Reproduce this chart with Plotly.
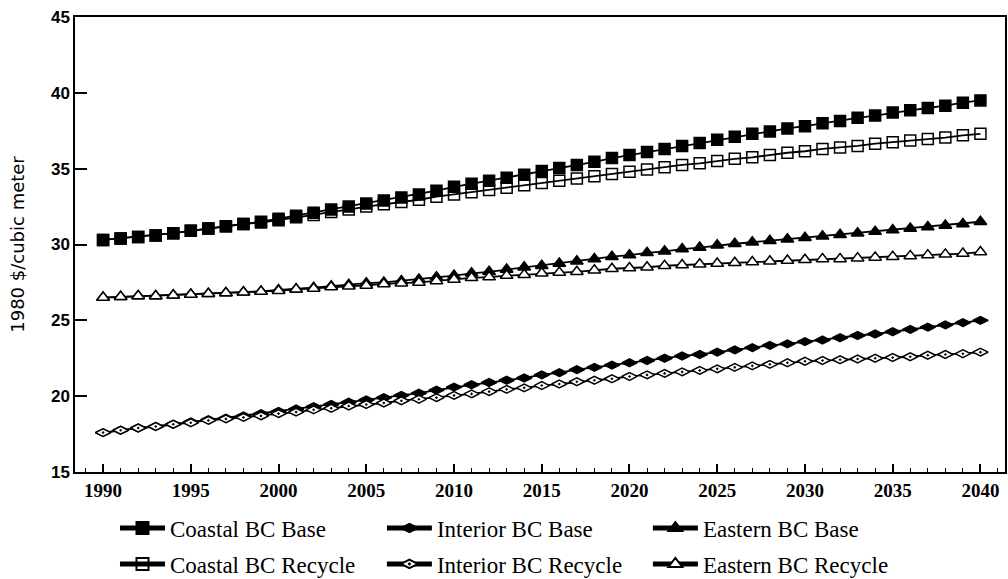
import plotly.graph_objects as go

# Years of the projection
years = list(range(1990, 2041))

# Log prices, 1980 $/cubic meter
coastal_base = [30.3, 30.4, 30.5, 30.6, 30.75, 30.9, 31.05, 31.2, 31.35, 31.5,
                31.7, 31.9, 32.1, 32.3, 32.5, 32.7, 32.9, 33.1, 33.3, 33.55,
                33.8, 34.0, 34.2, 34.4, 34.6, 34.85, 35.05, 35.25, 35.45, 35.7,
                35.9, 36.1, 36.3, 36.5, 36.7, 36.9, 37.1, 37.3, 37.45, 37.65,
                37.8, 38.0, 38.15, 38.35, 38.5, 38.7, 38.85, 39.0, 39.15, 39.35,
                39.5]
coastal_recycle = [30.3, 30.4, 30.5, 30.6, 30.75, 30.9, 31.05, 31.2, 31.35, 31.45,
                   31.6, 31.8, 31.95, 32.15, 32.3, 32.5, 32.65, 32.8, 32.95, 33.15,
                   33.3, 33.45, 33.6, 33.75, 33.9, 34.05, 34.2, 34.35, 34.5, 34.65,
                   34.8, 34.95, 35.1, 35.25, 35.35, 35.5, 35.65, 35.75, 35.9, 36.05,
                   36.15, 36.3, 36.4, 36.5, 36.65, 36.75, 36.85, 36.95, 37.05, 37.2,
                   37.3]
interior_base = [17.6, 17.75, 17.9, 18.0, 18.15, 18.3, 18.45, 18.55, 18.7, 18.85,
                 19.0, 19.15, 19.3, 19.45, 19.6, 19.75, 19.9, 20.05, 20.2, 20.4,
                 20.6, 20.75, 20.9, 21.05, 21.2, 21.4, 21.55, 21.75, 21.9, 22.05,
                 22.2, 22.35, 22.5, 22.65, 22.75, 22.9, 23.05, 23.2, 23.35, 23.45,
                 23.6, 23.7, 23.85, 24.0, 24.1, 24.25, 24.4, 24.55, 24.7, 24.85,
                 25.0]
interior_recycle = [17.6, 17.75, 17.9, 18.0, 18.15, 18.25, 18.4, 18.5, 18.6, 18.7,
                    18.85, 18.95, 19.1, 19.2, 19.35, 19.45, 19.55, 19.7, 19.8, 19.9,
                    20.05, 20.15, 20.3, 20.45, 20.55, 20.7, 20.8, 20.95, 21.05, 21.15,
                    21.3, 21.4, 21.5, 21.6, 21.7, 21.8, 21.9, 22.0, 22.1, 22.2,
                    22.3, 22.35, 22.4, 22.45, 22.5, 22.55, 22.6, 22.7, 22.75, 22.8,
                    22.9]
eastern_base = [26.5, 26.55, 26.6, 26.6, 26.65, 26.7, 26.75, 26.8, 26.85, 26.9,
                27.0, 27.05, 27.15, 27.25, 27.35, 27.45, 27.5, 27.6, 27.7, 27.85,
                27.95, 28.1, 28.2, 28.35, 28.5, 28.6, 28.75, 28.9, 29.05, 29.2,
                29.3, 29.45, 29.55, 29.7, 29.8, 29.95, 30.05, 30.15, 30.25, 30.35,
                30.45, 30.55, 30.65, 30.75, 30.85, 30.95, 31.05, 31.15, 31.25, 31.35,
                31.5]
eastern_recycle = [26.5, 26.55, 26.6, 26.6, 26.65, 26.7, 26.75, 26.8, 26.85, 26.9,
                   26.95, 27.05, 27.1, 27.2, 27.25, 27.3, 27.4, 27.45, 27.5, 27.6,
                   27.7, 27.8, 27.85, 27.95, 28.0, 28.1, 28.15, 28.2, 28.3, 28.4,
                   28.45, 28.5, 28.6, 28.65, 28.7, 28.75, 28.8, 28.85, 28.9, 28.95,
                   29.0, 29.05, 29.05, 29.1, 29.15, 29.2, 29.25, 29.3, 29.35, 29.4,
                   29.5]

x_tick_vals = list(range(1990, 2041, 5))
y_tick_vals = [15, 20, 25, 30, 35, 40, 45]

SERIF = "Liberation Serif, Times New Roman, serif"
SANS = "Liberation Sans, Arial, sans-serif"
TITLE_SANS = "DejaVu Sans, Verdana, sans-serif"

series = [
    # name, values, symbol, fill, legend column
    ("Coastal BC Base", coastal_base, "square", "black", "legend"),
    ("Coastal BC Recycle", coastal_recycle, "square-open", "black", "legend"),
    ("Interior BC Base", interior_base, "diamond-wide", "black", "legend2"),
    ("Interior BC Recycle", interior_recycle, "diamond-wide-dot", "white", "legend2"),
    ("Eastern BC Base", eastern_base, "triangle-up", "black", "legend3"),
    ("Eastern BC Recycle", eastern_recycle, "triangle-up", "white", "legend3"),
]

fig = go.Figure()
for name, vals, sym, fill, leg in series:
    fig.add_trace(go.Scatter(
        x=years, y=vals, name=name, mode="lines+markers",
        line=dict(color="black", width=1.8),
        marker=dict(symbol=sym, size=11, color=fill,
                    line=dict(color="black", width=1.5)),
        legend=leg, legendgroup=name,
    ))

legend_common = dict(
    orientation="v", yanchor="top", y=-0.076, xanchor="left",
    font=dict(family=SERIF, size=23, color="black"),
    bgcolor="rgba(0,0,0,0)", tracegroupgap=3, itemsizing="constant",
    itemwidth=45,
)

fig.update_layout(
    width=1008, height=579,
    margin=dict(l=75, r=3, t=17, b=107, autoexpand=False),
    paper_bgcolor="white", plot_bgcolor="white",
    showlegend=True,
    legend=dict(legend_common, x=0.043),
    legend2=dict(legend_common, x=0.330),
    legend3=dict(legend_common, x=0.616),
    xaxis=dict(
        range=[1988.4, 2041.4], tickvals=x_tick_vals,
        ticks="inside", ticklen=8, tickwidth=1.5, tickcolor="black",
        minor=dict(dtick=1, tick0=1990, ticks="inside", ticklen=4,
                   tickwidth=1, tickcolor="black"),
        showline=True, linecolor="black", linewidth=1.5, mirror=True,
        showgrid=False, zeroline=False,
        tickfont=dict(family=SERIF, size=19, color="black", weight="bold"),
    ),
    yaxis=dict(
        range=[15, 45], tickvals=y_tick_vals,
        ticks="inside", ticklen=12, tickwidth=1.5, tickcolor="black",
        showline=True, linecolor="black", linewidth=1.5, mirror=True,
        showgrid=False, zeroline=False,
        tickfont=dict(family=SANS, size=17, color="black", weight="bold"),
        title=dict(text="1980 $/cubic meter",
                   font=dict(family=TITLE_SANS, size=18, color="black"),
                   standoff=22),
    ),
)

fig.write_html("out.html")
